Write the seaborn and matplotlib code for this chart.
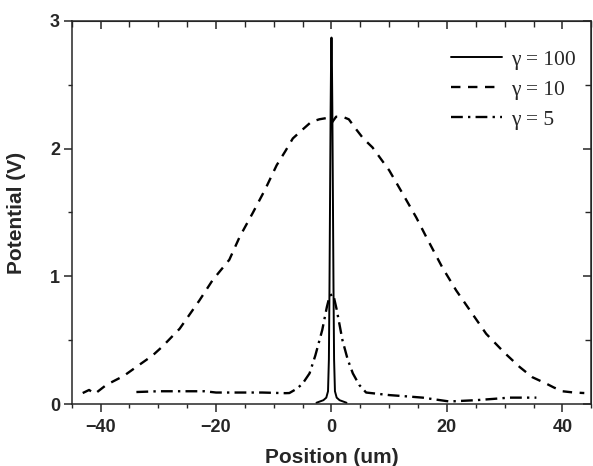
import matplotlib
matplotlib.use("Agg")
import matplotlib.pyplot as plt
from matplotlib.ticker import MultipleLocator
import pandas as pd
import seaborn as sns

# gamma = 100 (narrow spike)
x100 = [-2.6, -2.0, -1.4, -0.9, -0.6, -0.45, -0.35, -0.25, -0.15, -0.07, 0.0,
        0.07, 0.15, 0.25, 0.35, 0.45, 0.6, 0.9, 1.4, 2.0, 2.6]
y100 = [0.01, 0.02, 0.03, 0.05, 0.10, 0.35, 0.90, 1.60, 2.30, 2.70, 2.87,
        2.70, 2.30, 1.60, 0.90, 0.35, 0.10, 0.05, 0.03, 0.02, 0.01]

# gamma = 10 (broad)
x10 = [-43.1, -42, -41, -39, -36, -33.2, -31, -29.3, -26.3, -22.9, -20.6, -17.7,
       -15.9, -13.6, -11.5, -9.5, -8, -6.7, -5, -3.5, -2.1, -0.8, 0.0, 0.8, 1.9,
       3.0, 4.3, 5.5, 7.1, 10.0, 12.3, 14.7, 16.4, 19.2, 21.6, 24.2, 26.8, 30.0,
       32.6, 34.8, 37.2, 38.5, 40.0, 42, 43.8]
y10 = [0.086, 0.11, 0.08, 0.15, 0.22, 0.31, 0.38, 0.45, 0.59, 0.81, 0.97, 1.13,
       1.31, 1.50, 1.68, 1.87, 1.98, 2.08, 2.15, 2.21, 2.23, 2.24, 2.20, 2.25, 2.25,
       2.23, 2.15, 2.08, 2.01, 1.83, 1.65, 1.46, 1.31, 1.07, 0.89, 0.72, 0.55, 0.40,
       0.29, 0.21, 0.16, 0.13, 0.10, 0.09, 0.086]

# gamma = 5
x5 = [-33.8, -30, -26, -22, -20, -16, -12, -8, -7.3, -6, -5, -3.8, -2.8, -1.6,
      -0.8, -0.3, 0.3, 0.9, 1.9, 2.8, 3.7, 4.8, 6.0, 8, 10.0, 13, 15.8, 20.4, 25.0,
      28, 30.8, 33, 35.5]
y5 = [0.094, 0.10, 0.10, 0.10, 0.09, 0.09, 0.09, 0.085, 0.086, 0.12, 0.16, 0.24,
      0.38, 0.58, 0.76, 0.85, 0.86, 0.74, 0.50, 0.35, 0.24, 0.15, 0.09, 0.08, 0.07,
      0.06, 0.05, 0.02, 0.03, 0.04, 0.05, 0.05, 0.05]

labels = ["\u03b3 = 100", "\u03b3 = 10", "\u03b3 = 5"]

df = pd.concat([
    pd.DataFrame({"x": x100, "y": y100, "s": labels[0]}),
    pd.DataFrame({"x": x10, "y": y10, "s": labels[1]}),
    pd.DataFrame({"x": x5, "y": y5, "s": labels[2]}),
])

sns.set_style("ticks")
plt.rcParams["font.family"] = ["Liberation Sans", "DejaVu Sans"]

fig = plt.figure(figsize=(5.93, 4.66), dpi=100)
ax = fig.add_axes([0.121, 0.133, 0.876, 0.822])

styles = {labels[0]: ("-", 1.4), labels[1]: ((0, (4, 3.2)), 1.7),
          labels[2]: ((0, (5, 2.2, 1, 2.2)), 1.7)}
for lab in labels:
    sub = df[df["s"] == lab]
    ls, lw = styles[lab]
    sns.lineplot(data=sub, x="x", y="y", ax=ax, color="black", lw=lw,
                 sort=False, estimator=None, label=lab, linestyle=ls)

ax.set_xlim(-45, 45)
ax.set_ylim(0, 3)
ax.xaxis.set_major_locator(MultipleLocator(20))
ax.xaxis.set_minor_locator(MultipleLocator(5))
ax.yaxis.set_major_locator(MultipleLocator(1))
ax.yaxis.set_minor_locator(MultipleLocator(0.5))
ax.tick_params(which="major", direction="out", length=5.5, width=1.1,
               labelsize=13)
ax.tick_params(axis="x", which="major", pad=5)
ax.tick_params(axis="y", which="major", pad=3)
ax.tick_params(which="minor", direction="out", length=3, width=1.0)
for lab in ax.get_xticklabels() + ax.get_yticklabels():
    lab.set_fontweight("bold")

for sp in ax.spines.values():
    sp.set_linewidth(1.1)
    sp.set_visible(True)

top = ax.secondary_xaxis("top")
top.xaxis.set_major_locator(MultipleLocator(20))
top.xaxis.set_minor_locator(MultipleLocator(5))
top.tick_params(which="major", direction="in", length=6, width=1.1, labeltop=False)
top.tick_params(which="minor", direction="in", length=4, width=1.0)
right = ax.secondary_yaxis("right")
right.yaxis.set_major_locator(MultipleLocator(1))
right.yaxis.set_minor_locator(MultipleLocator(0.5))
right.tick_params(which="major", direction="in", length=6, width=1.1, labelright=False)
right.tick_params(which="minor", direction="in", length=4, width=1.0)

ax.set_xlabel("Position (um)", fontsize=15, fontweight="bold", labelpad=9)
ax.set_ylabel("Potential (V)", fontsize=15, fontweight="bold", labelpad=17)

leg = ax.legend(loc="upper left", bbox_to_anchor=(0.693, 0.975), frameon=False,
                prop={"family": "Liberation Serif", "size": 15.5},
                handlelength=2.35, handletextpad=0.45, labelspacing=0.45)

fig.savefig("out.png", dpi=100)
